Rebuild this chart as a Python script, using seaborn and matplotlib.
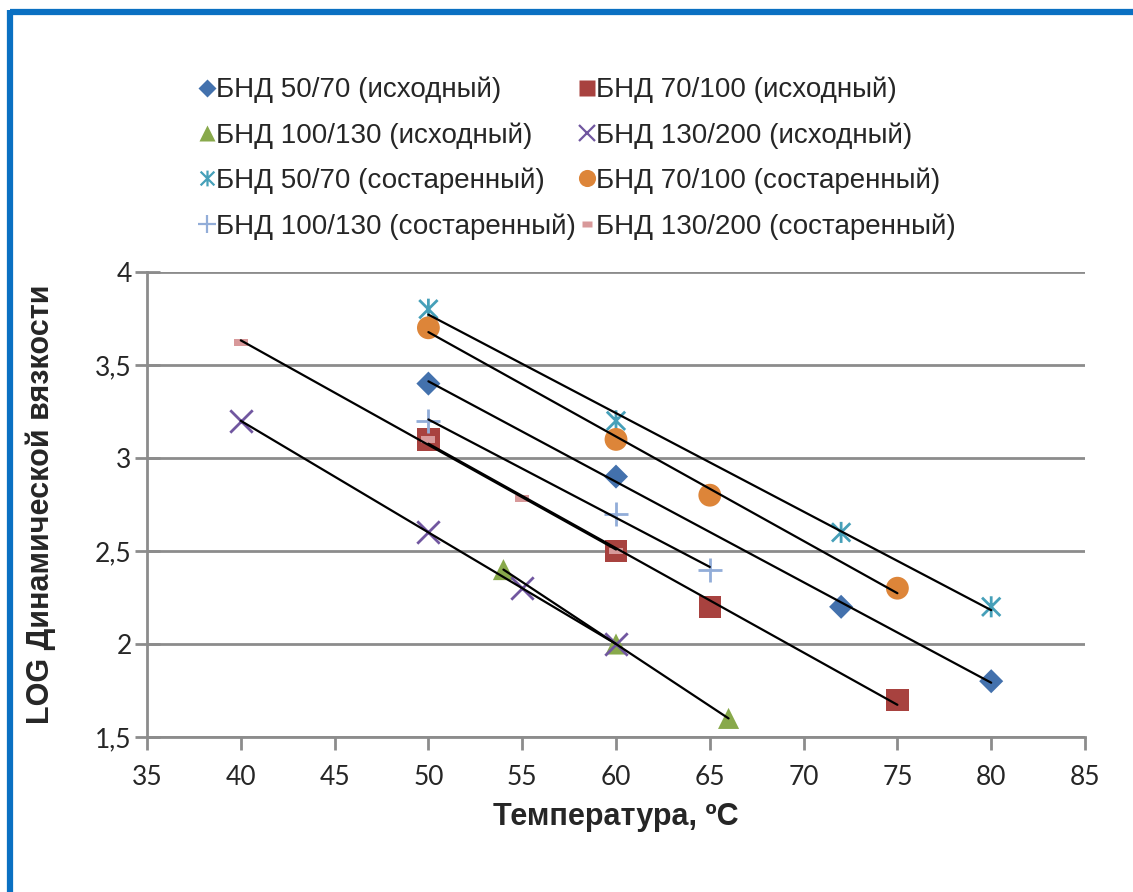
import numpy as np
import matplotlib
matplotlib.use("Agg")
import matplotlib.pyplot as plt
from matplotlib.path import Path
from matplotlib.lines import Line2D
from matplotlib.ticker import FuncFormatter
import seaborn as sns

# --- data: temperature (°C) and log of dynamic viscosity for each binder ---
labels = [
    "БНД 50/70 (исходный)",
    "БНД 70/100 (исходный)",
    "БНД 100/130 (исходный)",
    "БНД 130/200 (исходный)",
    "БНД 50/70 (состаренный)",
    "БНД 70/100 (состаренный)",
    "БНД 100/130 (состаренный)",
    "БНД 130/200 (состаренный)",
]

t_50_70 = [50, 60, 72, 80]
v_50_70 = [3.4, 2.9, 2.2, 1.8]

t_70_100 = [50, 60, 65, 75]
v_70_100 = [3.1, 2.5, 2.2, 1.7]

t_100_130 = [54, 60, 66]
v_100_130 = [2.4, 2.0, 1.6]

t_130_200 = [40, 50, 55, 60]
v_130_200 = [3.2, 2.6, 2.3, 2.0]

t_50_70_aged = [50, 60, 72, 80]
v_50_70_aged = [3.8, 3.2, 2.6, 2.2]

t_70_100_aged = [50, 60, 65, 75]
v_70_100_aged = [3.7, 3.1, 2.8, 2.3]

t_100_130_aged = [50, 60, 65]
v_100_130_aged = [3.2, 2.7, 2.4]

t_130_200_aged = [40, 50, 55, 60]
v_130_200_aged = [3.62, 3.1, 2.78, 2.5]

x_ticks = [35, 40, 45, 50, 55, 60, 65, 70, 75, 80, 85]
y_ticks = [1.5, 2, 2.5, 3, 3.5, 4]

# --- marker shapes ---
star_path = Path(
    [(-1, -1), (1, 1), (-1, 1), (1, -1), (0, -1.15), (0, 1.15)],
    [Path.MOVETO, Path.LINETO, Path.MOVETO, Path.LINETO, Path.MOVETO, Path.LINETO],
)
dash_path = Path(
    [(-1, -0.5), (1, -0.5), (1, 0.5), (-1, 0.5), (-1, -0.5)],
    [Path.MOVETO, Path.LINETO, Path.LINETO, Path.LINETO, Path.CLOSEPOLY],
)

series = [
    (t_50_70, v_50_70, "D", "#4371AD", 150, True),
    (t_70_100, v_70_100, "s", "#A8423F", 260, True),
    (t_100_130, v_100_130, "^", "#88A94B", 230, True),
    (t_130_200, v_130_200, "x", "#7157A0", 260, False),
    (t_50_70_aged, v_50_70_aged, star_path, "#46A0B9", 230, False),
    (t_70_100_aged, v_70_100_aged, "o", "#DD8539", 270, True),
    (t_100_130_aged, v_100_130_aged, "+", "#92ADD8", 300, False),
    (t_130_200_aged, v_130_200_aged, dash_path, "#D8999A", 100, True),
]

sns.set_style("white")
plt.rcParams["font.family"] = ["Liberation Sans", "DejaVu Sans"]

fig = plt.figure(figsize=(11.33, 8.92), dpi=100)
ax = fig.add_axes([147 / 1133, 1 - 737 / 892, (1085 - 147) / 1133, (737 - 272) / 892])

handles = []
for (tx, vy, mk, col, size, filled), lab in zip(series, labels):
    if filled:
        sns.scatterplot(x=tx, y=vy, marker=mk, color=col, s=size,
                        edgecolor="none", ax=ax, zorder=3)
        h = Line2D([], [], linestyle="", marker=mk, color=col,
                   markeredgecolor="none", markersize=np.sqrt(size) * 0.75)
    else:
        sns.scatterplot(x=tx, y=vy, marker=mk, color=col, s=size,
                        edgecolor=col, facecolor="none" if isinstance(mk, Path) else col,
                        linewidth=2, ax=ax, zorder=3)
        h = Line2D([], [], linestyle="", marker=mk, color=col,
                   markeredgecolor=col, markerfacecolor="none",
                   markeredgewidth=1.6, markersize=np.sqrt(size) * 0.75)
    handles.append(h)
    # linear trend line over the measured range
    sns.regplot(x=np.array(tx, dtype=float), y=np.array(vy, dtype=float),
                scatter=False, ci=None, truncate=True, color="black",
                line_kws=dict(lw=1.6, zorder=4), ax=ax)

ax.set_xlim(35, 85)
ax.set_ylim(1.5, 4)
ax.set_xticks(x_ticks)
ax.set_yticks(y_ticks)
ax.yaxis.set_major_formatter(FuncFormatter(lambda v, p: f"{v:g}".replace(".", ",")))

grid_col = "#8C8C8C"
ax.yaxis.grid(True, color=grid_col, lw=2)
ax.xaxis.grid(False)
ax.set_axisbelow(True)
for side in ["top", "right"]:
    ax.spines[side].set_visible(False)
for side in ["left", "bottom"]:
    ax.spines[side].set_color(grid_col)
    ax.spines[side].set_linewidth(2)

ax.tick_params(axis="x", direction="out", length=9, width=2, color=grid_col,
               labelsize=19, pad=11, bottom=True)
ax.tick_params(axis="y", direction="inout", length=18, width=2, color=grid_col,
               labelsize=19, pad=2, left=True)
for lbl in ax.get_xticklabels() + ax.get_yticklabels():
    lbl.set_family(["Lato", "DejaVu Sans"])

ax.set_xlabel("Температура, ºC", fontsize=22, fontweight="bold", labelpad=9)
ax.set_ylabel("LOG Динамической вязкости", fontsize=22, fontweight="bold")
ax.yaxis.set_label_coords(-(147 - 56) / 938, 0.5)

order = [0, 2, 4, 6, 1, 3, 5, 7]
fig.legend([handles[i] for i in order], [labels[i] for i in order],
           ncol=2, loc="upper left", bbox_to_anchor=(185 / 1133, 1 - 63 / 892),
           frameon=False, fontsize=20, handlelength=0.55, handletextpad=0.05,
           columnspacing=0.15, labelspacing=0.68, borderpad=0)

# blue frame along the top and left edges
frame_col = "#0A70C2"
fig.add_artist(Line2D([10 / 1133, 1.01], [1 - 12 / 892, 1 - 12 / 892],
                      transform=fig.transFigure, color=frame_col, lw=4.5,
                      solid_capstyle="butt"))
fig.add_artist(Line2D([10 / 1133, 10 / 1133], [1 - 10 / 892, -0.01],
                      transform=fig.transFigure, color=frame_col, lw=4.5,
                      solid_capstyle="butt"))

fig.savefig("out.png", dpi=100)
